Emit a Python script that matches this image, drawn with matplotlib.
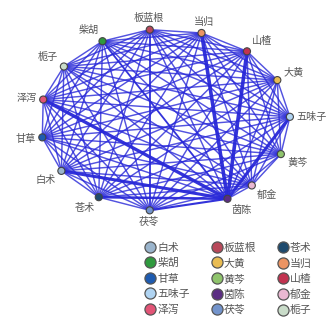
import numpy as np
import matplotlib.pyplot as plt
from matplotlib.lines import Line2D

plt.rcParams['font.family'] = ['Noto Sans CJK SC', 'DejaVu Sans']

# herbs, in legend order
herbs = ['白术', '板蓝根', '苍术', '柴胡', '大黄', '当归', '甘草', '黄芩',
         '山楂', '五味子', '茵陈', '郁金', '泽泻', '茯苓', '栀子']
colors = ['#9ab4cc', '#b8485a', '#1d4a6e', '#2f9a3e', '#e9bc52', '#ec9463',
          '#1e5bb0', '#8fc46c', '#c23350', '#b0d4f2', '#5b2d82', '#eab8d2',
          '#e25476', '#7394cc', '#c9dcc9']
# position of each node on the ring (degrees, counter-clockwise from right)
angles = [-146, 97, -122, 120, 26, 73, -169, -22, 49, 2, -60, -46, 167, -97, 144]

# heavier links (herb a, herb b, width)
heavy = [('茵陈', '当归', 2.6), ('茵陈', '山楂', 2.6), ('茵陈', '五味子', 2.2),
         ('茵陈', '泽泻', 2.4), ('茵陈', '白术', 2.2), ('茵陈', '苍术', 1.8),
         ('茵陈', '茯苓', 1.5), ('板蓝根', '茯苓', 1.3), ('柴胡', '茵陈', 1.3)]

fig = plt.figure(figsize=(3.35, 3.2), dpi=100)
ax = fig.add_axes([0.0075, 0.2695, 0.970, 0.711])
ax.set_xlim(-1.3, 1.3)
ax.set_ylim(-1.25, 1.25)
ax.axis('off')

th = np.radians(angles)
xs = np.cos(th)
ys = np.sin(th)
wmap = {}
for a, b, w in heavy:
    wmap[frozenset((a, b))] = w

n = len(herbs)
for i in range(n):
    for j in range(i + 1, n):
        w = wmap.get(frozenset((herbs[i], herbs[j])), 1.05)
        ax.plot([xs[i], xs[j]], [ys[i], ys[j]], color='#2828d8',
                lw=w, alpha=0.8 if w < 1.2 else 0.95, zorder=1,
                solid_capstyle='round')

ax.scatter(xs, ys, s=26, c=colors, edgecolors='#444444', linewidths=0.8, zorder=3)

for i, h in enumerate(herbs):
    c, s = np.cos(th[i]), np.sin(th[i])
    ha = 'left' if c > 0.35 else ('right' if c < -0.35 else 'center')
    va = 'bottom' if s > 0.35 else ('top' if s < -0.35 else 'center')
    ax.annotate(h, (xs[i], ys[i]), xytext=(5 * c, 5 * s),
                textcoords='offset points', ha=ha, va=va,
                fontsize=7.3, color='#555555', zorder=4)

handles = [Line2D([], [], ls='none', marker='o', markersize=8,
                  markerfacecolor=col, markeredgecolor='#555555',
                  markeredgewidth=0.9, label=h)
           for h, col in zip(herbs, colors)]
# legend fills column by column, reference reads row by row
order = list(range(0, n, 3)) + list(range(1, n, 3)) + list(range(2, n, 3))
leg = fig.legend([handles[k] for k in order], [herbs[k] for k in order],
                 ncol=3, loc='upper left', bbox_to_anchor=(0.415, 0.262),
                 frameon=False, fontsize=7.8, handlelength=0.9,
                 handletextpad=0.2, columnspacing=2.0, labelspacing=0.5,
                 borderpad=0.1)
for t in leg.get_texts():
    t.set_color('#555555')

fig.savefig('out.png', dpi=100)
